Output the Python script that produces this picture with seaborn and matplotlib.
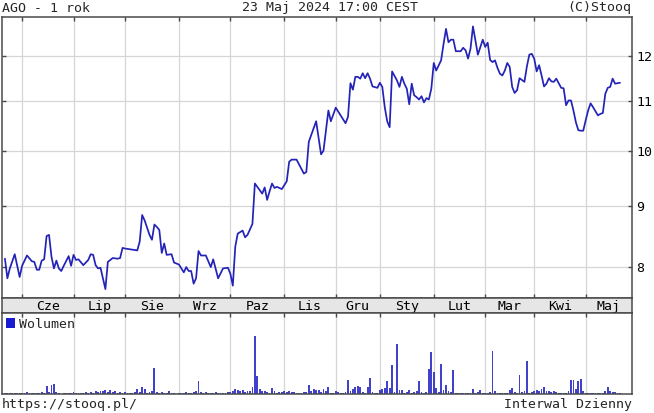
import matplotlib
matplotlib.use("Agg")
import matplotlib.pyplot as plt
import matplotlib.transforms as mtransforms
from matplotlib.ticker import FixedLocator, FixedFormatter, NullLocator
import seaborn as sns
import pandas as pd

# ---------------- data ----------------
title_left = "AGO - 1 rok"
title_center = "23 Maj 2024 17:00 CEST"
title_right = "(C)Stooq"
footer_left = "https://stooq.pl/"
footer_right = "Interwal Dzienny"
volume_label = "Wolumen"

month_labels = ["Cze", "Lip", "Sie", "Wrz", "Paz", "Lis",
                "Gru", "Sty", "Lut", "Mar", "Kwi", "Maj"]
# trading-day index of the first session of each month
month_start_day = [7, 28, 49, 71, 92, 114, 135, 153, 175, 196, 216, 237]

price_ticks = [8, 9, 10, 11, 12]

# trading-day index (0 = 23 May 2023 ... 251 = 23 May 2024) and close
price_day = [0, 1, 2, 4, 6, 7, 9, 11, 12, 13, 14, 15, 16, 17, 18, 19, 20, 21, 22, 23,
             24, 26, 27, 28, 29, 30, 32, 34, 35, 36, 37, 38, 39, 40, 41, 42, 44, 46, 47, 48,
             49, 54, 55, 56, 57, 59, 60, 61, 62, 63, 64, 65, 66, 68, 69, 71, 73, 74, 75, 76,
             77, 78, 79, 80, 82, 84, 85, 87, 89, 91, 92, 93, 94, 95, 97, 98, 99, 101, 102, 103,
             105, 106, 107, 108, 109, 110, 111, 113, 115, 116, 117, 119, 122, 123, 124, 127, 129, 130, 132, 133,
             135, 137, 139, 140, 141, 142, 143, 144, 145, 146, 147, 148, 149, 150, 152, 153, 154, 155, 156, 157,
             158, 160, 161, 162, 163, 164, 165, 166, 167, 168, 169, 170, 171, 172, 173, 174, 175, 176, 178, 179,
             180, 181, 182, 183, 184, 186, 187, 188, 189, 190, 191, 192, 193, 195, 196, 197, 198, 199, 200, 201,
             202, 203, 204, 205, 206, 207, 208, 209, 210, 212, 213, 214, 215, 216, 217, 218, 219, 220, 221, 222,
             223, 224, 225, 226, 227, 228, 229, 230, 231, 232, 233, 234, 235, 236, 237, 238, 239, 240, 242, 243,
             244, 245, 246, 247, 248, 249, 251]
price_close = [8.13, 7.83, 7.98, 8.20, 7.85, 8.02, 8.18, 8.09, 8.08, 7.96, 7.96, 8.10, 8.12, 8.49, 8.51, 8.16, 7.98, 8.10, 7.98, 7.94,
               8.02, 8.17, 8.02, 8.19, 8.11, 8.12, 8.03, 8.11, 8.20, 8.19, 8.03, 7.98, 7.99, 7.83, 7.67, 8.08, 8.14, 8.13, 8.14, 8.30,
               8.29, 8.26, 8.40, 8.84, 8.75, 8.51, 8.43, 8.68, 8.64, 8.59, 8.22, 8.37, 8.19, 8.20, 8.07, 8.04, 7.92, 8.00, 7.94, 7.94,
               7.75, 7.83, 8.25, 8.18, 8.18, 8.00, 8.12, 7.83, 7.98, 7.99, 7.90, 7.72, 8.32, 8.53, 8.58, 8.47, 8.51, 8.69, 9.39, 9.33,
               9.21, 9.32, 9.10, 9.25, 9.39, 9.31, 9.33, 9.29, 9.43, 9.79, 9.83, 9.83, 9.57, 9.60, 10.17, 10.58, 9.93, 10.00, 10.80, 10.58,
               10.86, 10.70, 10.54, 10.67, 11.38, 11.24, 11.52, 11.52, 11.48, 11.60, 11.49, 11.60, 11.48, 11.31, 11.28, 11.39, 11.30, 10.87, 10.58, 10.46,
               11.64, 11.44, 11.30, 11.52, 11.37, 11.26, 10.93, 11.37, 11.12, 11.08, 11.03, 11.10, 10.97, 11.06, 11.03, 11.26, 11.83, 11.66, 11.89, 12.27,
               12.63, 12.31, 12.37, 12.37, 12.10, 12.10, 12.18, 12.12, 11.93, 12.16, 12.69, 12.35, 12.02, 12.37, 12.20, 12.30, 11.90, 11.85, 11.89, 11.72,
               11.59, 11.55, 11.66, 11.83, 11.74, 11.30, 11.17, 11.23, 11.49, 11.41, 11.75, 12.02, 12.04, 11.93, 11.64, 11.78, 11.55, 11.31, 11.37, 11.49,
               11.42, 11.41, 11.48, 11.38, 11.28, 11.27, 10.91, 11.01, 11.01, 10.80, 10.56, 10.40, 10.39, 10.39, 10.60, 10.80, 10.95, 10.87, 10.70, 10.73,
               10.75, 11.15, 11.28, 11.30, 11.48, 11.37, 11.39]

# daily volume (relative units), one value per trading day 0..251
volume = [3, 4, 3, 3, 4, 2, 3, 4, 3, 5, 3, 2, 3, 4, 3, 5, 4, 25, 6, 28,
          30, 5, 3, 0, 3, 3, 4, 3, 5, 4, 3, 4, 3, 6, 4, 5, 4, 8, 6, 10,
          10, 12, 5, 12, 6, 8, 4, 6, 4, 5, 3, 4, 3, 5, 15, 6, 20, 15, 4, 5,
          8, 78, 5, 4, 5, 3, 4, 8, 4, 3, 0, 3, 4, 3, 6, 3, 4, 5, 8, 40,
          6, 4, 5, 3, 4, 3, 5, 3, 4, 3, 4, 5, 6, 8, 15, 12, 10, 12, 6, 10,
          8, 20, 175, 53, 15, 10, 8, 5, 4, 18, 8, 4, 5, 6, 8, 7, 8, 5, 6, 4,
          3, 4, 5, 6, 28, 8, 15, 12, 12, 6, 15, 10, 20, 4, 3, 8, 5, 3, 4, 5,
          43, 8, 15, 20, 25, 22, 5, 4, 22, 48, 5, 3, 4, 12, 15, 18, 38, 18, 88, 6,
          151, 12, 12, 4, 5, 12, 4, 5, 8, 38, 5, 4, 5, 76, 126, 65, 18, 6, 91, 12,
          28, 8, 5, 73, 3, 3, 3, 2, 3, 3, 4, 15, 4, 5, 12, 3, 4, 3, 5, 130,
          10, 4, 3, 3, 4, 3, 12, 18, 5, 3, 56, 5, 8, 98, 4, 5, 10, 12, 10, 15,
          22, 8, 10, 5, 8, 5, 3, 3, 2, 3, 8, 43, 43, 15, 38, 45, 8, 3, 3, 4,
          3, 3, 2, 3, 4, 10, 22, 8, 5, 5, 4, 4]

# ---------------- style ----------------
sns.set_theme(style="white")
plt.rcParams["font.family"] = ["DejaVu Sans Mono"]
FS = 9.5
LINE_COLOR = "#2323b8"
BAR_COLOR = "#4141cc"
GRID_COLOR = "#d6d6d6"
FRAME_COLOR = "#4a4a4a"
STRIP_COLOR = "#e6e6e6"

W, H = 654, 413
fig = plt.figure(figsize=(W / 100, H / 100), dpi=100)
fig.patch.set_facecolor("white")


def rect(l, t, r, b):
    return [l / W, 1 - b / H, (r - l) / W, (b - t) / H]


ax_p = fig.add_axes(rect(1.5, 17, 632, 298))
ax_m = fig.add_axes(rect(1.5, 298, 632, 313))
ax_v = fig.add_axes(rect(1.5, 313, 632, 394))

x_left, x_right = -1.4, 255.9

# ---------------- price panel ----------------
df_p = pd.DataFrame({"day": price_day, "close": price_close})
sns.lineplot(data=df_p, x="day", y="close", ax=ax_p, color=LINE_COLOR,
             linewidth=1.25, estimator=None, sort=False)
ax_p.set_yscale("log")
ax_p.set_ylim(7.54, 12.92)
ax_p.set_xlim(x_left, x_right)
ax_p.yaxis.set_major_locator(FixedLocator(price_ticks))
ax_p.yaxis.set_major_formatter(FixedFormatter([str(t) for t in price_ticks]))
ax_p.yaxis.set_minor_locator(NullLocator())
ax_p.xaxis.set_major_locator(FixedLocator(month_start_day))
ax_p.tick_params(axis="y", which="major", left=True, right=True, labelleft=False,
                 labelright=True, direction="in", length=3, width=1,
                 color=FRAME_COLOR, labelsize=FS, pad=3, labelcolor="black")
ax_p.tick_params(axis="x", which="major", top=True, bottom=True, labelbottom=False,
                 direction="in", length=3, width=1, color=FRAME_COLOR)
ax_p.grid(True, color=GRID_COLOR, linewidth=0.9)
ax_p.set_xlabel("")
ax_p.set_ylabel("")

# ---------------- month strip ----------------
ax_m.set_facecolor(STRIP_COLOR)
ax_m.set_xlim(x_left, x_right)
ax_m.set_ylim(0, 1)
ax_m.set_xticks([])
ax_m.set_yticks([])
bounds = month_start_day + [x_right]
trans = mtransforms.blended_transform_factory(ax_m.transData, ax_m.transAxes)
for i, lab in enumerate(month_labels):
    mid = (bounds[i] + bounds[i + 1]) / 2
    ax_m.text(mid, 0.45, lab, transform=trans, ha="center", va="center",
              fontsize=FS, color="black")

# ---------------- volume panel ----------------
df_v = pd.DataFrame({"day": list(range(len(volume))), "volume": volume})
sns.barplot(data=df_v, x="day", y="volume", ax=ax_v, native_scale=True,
            color=BAR_COLOR, width=0.75, saturation=1, errorbar=None,
            linewidth=0, label=volume_label)
ax_v.set_xlim(x_left, x_right)
ax_v.set_ylim(0, 243)
ax_v.xaxis.set_major_locator(FixedLocator(month_start_day))
ax_v.yaxis.set_major_locator(NullLocator())
ax_v.tick_params(axis="x", which="major", top=True, bottom=False, labelbottom=False,
                 direction="in", length=3, width=1, color=FRAME_COLOR)
ax_v.grid(True, axis="x", color=GRID_COLOR, linewidth=0.9)
ax_v.set_xlabel("")
ax_v.set_ylabel("")
leg = ax_v.legend(loc="upper left", frameon=False, fontsize=FS,
                  handlelength=0.7, handleheight=0.7, handletextpad=0.25,
                  borderaxespad=0.15, borderpad=0.2)
for h in leg.legend_handles:
    h.set_color("#1a1ad0")

for ax in (ax_p, ax_m, ax_v):
    ax.set_axisbelow(True)
    for sp in ax.spines.values():
        sp.set_visible(True)
        sp.set_color(FRAME_COLOR)
        sp.set_linewidth(1.1)

# ---------------- header / footer ----------------
fig.text(2 / W, 1 - 8 / H, title_left, ha="left", va="center", fontsize=FS)
fig.text(330 / W, 1 - 8 / H, title_center, ha="center", va="center", fontsize=FS)
fig.text(631 / W, 1 - 8 / H, title_right, ha="right", va="center", fontsize=FS)
fig.text(2 / W, 1 - 404.5 / H, footer_left, ha="left", va="center", fontsize=FS)
fig.text(632 / W, 1 - 404.5 / H, footer_right, ha="right", va="center", fontsize=FS)

fig.savefig("out.png", dpi=100)
